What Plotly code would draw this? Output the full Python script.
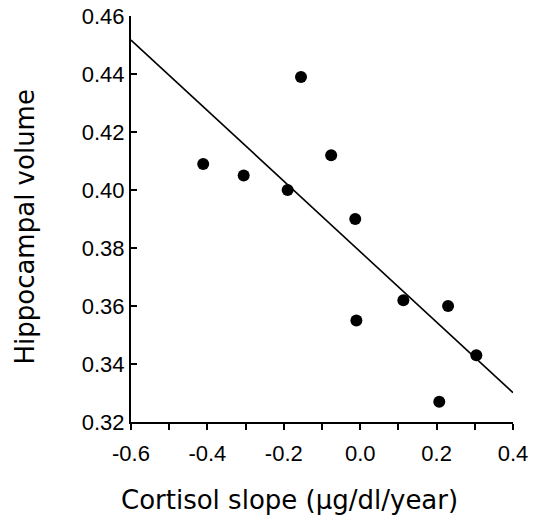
import plotly.graph_objects as go

# Data
cortisol_slope = [-0.411, -0.305, -0.190, -0.155, -0.076, -0.013, -0.010, 0.113, 0.207, 0.230, 0.304]
hippo_volume = [0.409, 0.405, 0.400, 0.439, 0.412, 0.390, 0.355, 0.362, 0.327, 0.360, 0.343]
fit_x = [-0.6, 0.4]
fit_y = [0.4517, 0.3301]

x_tickvals = [-0.6, -0.4, -0.2, 0.0, 0.2, 0.4]
x_ticktext = ["-0.6", "-0.4", "-0.2", "0.0", "0.2", "0.4"]
y_tickvals = [0.32, 0.34, 0.36, 0.38, 0.40, 0.42, 0.44, 0.46]
y_ticktext = ["0.32", "0.34", "0.36", "0.38", "0.40", "0.42", "0.44", "0.46"]
x_title = "Cortisol slope (μg/dl/year)"
y_title = "Hippocampal volume"

font = "Liberation Sans, Arial, sans-serif"
title_font = "DejaVu Sans, Liberation Sans, sans-serif"

fig = go.Figure()
fig.add_trace(go.Scatter(x=fit_x, y=fit_y, mode="lines",
                         line=dict(color="black", width=1.6), hoverinfo="skip"))
fig.add_trace(go.Scatter(x=cortisol_slope, y=hippo_volume, mode="markers",
                         marker=dict(color="black", size=12)))

fig.update_layout(
    width=533, height=521,
    margin=dict(l=131, r=20, t=16, b=99),
    paper_bgcolor="white", plot_bgcolor="white",
    showlegend=False,
    font=dict(family=font, color="black"),
)
fig.update_xaxes(
    range=[-0.6, 0.4], showgrid=False, zeroline=False, automargin=False,
    showline=True, linecolor="black", linewidth=2,
    ticks="outside", ticklen=6, tickwidth=1.5, tickcolor="black",
    tickvals=x_tickvals, ticktext=x_ticktext, ticklabelstandoff=5,
    minor=dict(ticks="outside", ticklen=6, tickwidth=1.5, tickcolor="black", dtick=0.1),
    tickfont=dict(size=22, family=font),
)
fig.update_yaxes(
    range=[0.32, 0.46], showgrid=False, zeroline=False, automargin=False,
    showline=True, linecolor="black", linewidth=2,
    ticks="inside", ticklen=6, tickwidth=1.5, tickcolor="black",
    tickvals=y_tickvals, ticktext=y_ticktext,
    tickfont=dict(size=22, family=font),
)
fig.add_annotation(text=x_title, xref="paper", yref="paper", x=0.416, y=-0.192,
                   xanchor="center", yanchor="middle", showarrow=False,
                   font=dict(size=26, family=title_font, color="black"))
fig.add_annotation(text=y_title, xref="paper", yref="paper", x=-0.280, y=0.4815,
                   xanchor="center", yanchor="middle", showarrow=False, textangle=-90,
                   font=dict(size=26, family=title_font, color="black"))

fig.write_html("out.html")
